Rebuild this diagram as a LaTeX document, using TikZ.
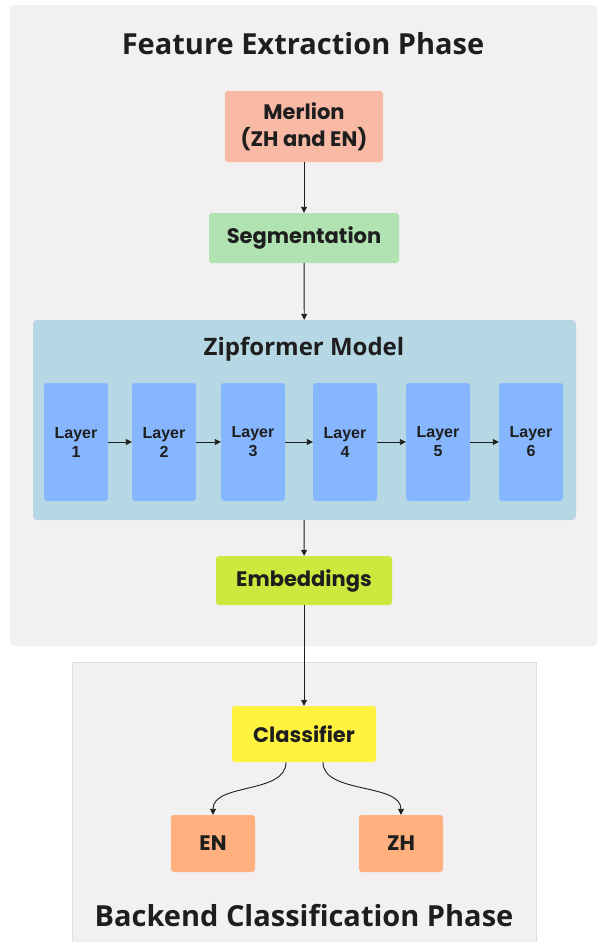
\documentclass[tikz,border=0pt]{standalone}
\usepackage{xcolor}
\usepackage{fontspec}
\usepackage{tikz}
\usetikzlibrary{arrows.meta}
\newfontfamily\popfont{Poppins}
\newfontfamily\headfont{Open Sans}
\newfontfamily\layerfont{Liberation Sans}
\definecolor{panelgray}{RGB}{242,240,240}
\definecolor{panelline}{RGB}{224,222,222}
\definecolor{merlionred}{RGB}{248,185,165}
\definecolor{segmgreen}{RGB}{177,226,178}
\definecolor{zipblue}{RGB}{182,216,229}
\definecolor{layerblue}{RGB}{134,182,254}
\definecolor{embedlime}{RGB}{206,232,62}
\definecolor{classyellow}{RGB}{255,243,63}
\definecolor{langorange}{RGB}{255,176,126}
\definecolor{inkdark}{RGB}{30,30,30}
\begin{document}
\begin{tikzpicture}[x=1pt,y=1pt,yscale=-1,xscale=1,
  box/.style={rounded corners=3pt, inner sep=0.75pt, align=center, text=inkdark, font=\popfont\bfseries\fontsize{21}{27}\selectfont},
  layerbox/.style={rounded corners=3pt, fill=layerblue, minimum width=64, minimum height=118, inner sep=0.75pt, align=center, text=inkdark, font=\layerfont\bfseries\fontsize{16}{19}\selectfont},
  phasetitle/.style={inner sep=0.75pt, text=inkdark, font=\headfont\bfseries\fontsize{29}{34}\selectfont},
  arr/.style={draw=inkdark, line width=0.9pt, -{Triangle[length=6pt,width=6pt]}}]
\useasboundingbox (0,0) rectangle (598,942);

%Shape: Rectangle [feature panel]
\fill [panelgray, rounded corners=4pt] (10,5) rectangle (597,646) ;
%Shape: Rectangle [backend panel]
\draw [panelline, fill=panelgray] (72,662) rectangle (536,942) ;

% Text Node
\node (fetitle) at (303,44) [phasetitle] {Feature Extraction Phase};
% Text Node
\node (merlion) at (304,126.5) [box, fill=merlionred, minimum width=158, minimum height=71] {Merlion\\(ZH and EN)};
% Text Node
\node (segm) at (304,238) [box, fill=segmgreen, minimum width=190, minimum height=50] {Segmentation};

%Shape: Rectangle [zipformer]
\node (zip) at (304.5,420) [rounded corners=4pt, fill=zipblue, minimum width=543, minimum height=200, inner sep=0pt] {};
% Text Node
\node (ziptitle) at (304,349) [phasetitle, font=\headfont\bfseries\fontsize{24}{28}\selectfont] {Zipformer Model};

% Layer Nodes
\node (l1) at (76,442) [layerbox] {Layer\\1};
\node (l2) at (164,442) [layerbox] {Layer\\2};
\node (l3) at (253,442) [layerbox] {Layer\\3};
\node (l4) at (345,442) [layerbox] {Layer\\4};
\node (l5) at (438,442) [layerbox] {Layer\\5};
\node (l6) at (531,442) [layerbox] {Layer\\6};

% Text Node
\node (embed) at (304,580.5) [box, fill=embedlime, minimum width=176, minimum height=49] {Embeddings};
% Text Node
\node (classif) at (304,734) [box, fill=classyellow, minimum width=144, minimum height=56] {Classifier};
% Text Node
\node (en) at (213,843.5) [box, fill=langorange, minimum width=84, minimum height=57] {EN};
% Text Node
\node (zh) at (401,843.5) [box, fill=langorange, minimum width=84, minimum height=57] {ZH};
% Text Node
\node (bctitle) at (304,916) [phasetitle] {Backend Classification Phase};

%Straight Lines
\draw [arr] (merlion) -- (segm) ;
\draw [arr] (segm) -- (zip) ;
\draw [arr] (zip) -- (embed) ;
\draw [arr] (embed) -- (classif) ;
\draw [arr] (l1) -- (l2) ;
\draw [arr] (l2) -- (l3) ;
\draw [arr] (l3) -- (l4) ;
\draw [arr] (l4) -- (l5) ;
\draw [arr] (l5) -- (l6) ;

%Curve Lines
\draw [arr] ([xshift=-18pt]classif.south) .. controls +(0,32) and +(0,-32) .. (en.north) ;
\draw [arr] ([xshift=19pt]classif.south) .. controls +(0,32) and +(0,-32) .. (zh.north) ;

\end{tikzpicture}
\end{document}
